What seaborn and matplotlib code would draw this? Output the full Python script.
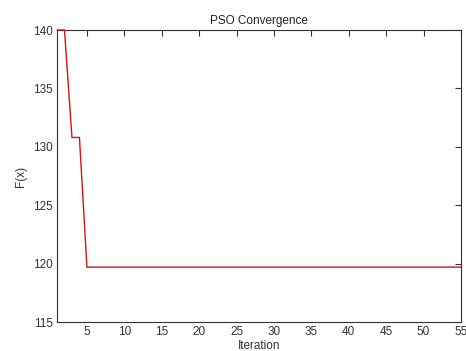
import pandas as pd
import seaborn as sns
import matplotlib.pyplot as plt

# best fitness value per iteration
iterations = list(range(1, 56))
fx = [140.0, 140.0, 130.8, 130.8, 119.7, 119.7, 119.7, 119.7, 119.7, 119.7,
      119.7, 119.7, 119.7, 119.7, 119.7, 119.7, 119.7, 119.7, 119.7, 119.7,
      119.7, 119.7, 119.7, 119.7, 119.7, 119.7, 119.7, 119.7, 119.7, 119.7,
      119.7, 119.7, 119.7, 119.7, 119.7, 119.7, 119.7, 119.7, 119.7, 119.7,
      119.7, 119.7, 119.7, 119.7, 119.7, 119.7, 119.7, 119.7, 119.7, 119.7,
      119.7, 119.7, 119.7, 119.7, 119.7]
x_ticks = [5, 10, 15, 20, 25, 30, 35, 40, 45, 50, 55]
y_ticks = [115, 120, 125, 130, 135, 140]


def main():
    df = pd.DataFrame({"Iteration": iterations, "F(x)": fx})

    sns.set_theme(style="white")
    plt.rcParams['font.family'] = ['Liberation Sans', 'DejaVu Sans']

    fig = plt.figure(figsize=(4.66, 3.51), dpi=100)
    ax = fig.add_axes([0.1223, 0.0826, 0.8670, 0.8319])

    sns.lineplot(data=df, x="Iteration", y="F(x)", color="#c81818",
                 linewidth=1.0, ax=ax)
    # draw the curve over the box so the flat start at 140 stays visible
    ax.lines[0].set_zorder(3)
    ax.lines[0].set_clip_on(False)

    ax.set_xlim(1, 55)
    ax.set_ylim(115, 140)
    ax.set_xticks(x_ticks)
    ax.set_yticks(y_ticks)
    ax.tick_params(direction="in", length=4, width=0.8, top=True, right=True,
                   labelsize=8.5, colors="#333333", pad=3)
    for sp in ax.spines.values():
        sp.set_color("#333333")
        sp.set_linewidth(0.8)

    ax.set_title("PSO Convergence", fontsize=8.5, pad=4, color="#222222")
    ax.set_xlabel("Iteration", fontsize=8.5, labelpad=1, color="#333333")
    ax.set_ylabel("F(x)", fontsize=8.5, labelpad=4, color="#333333")

    fig.savefig("out.png", dpi=100)


if __name__ == "__main__":
    main()
